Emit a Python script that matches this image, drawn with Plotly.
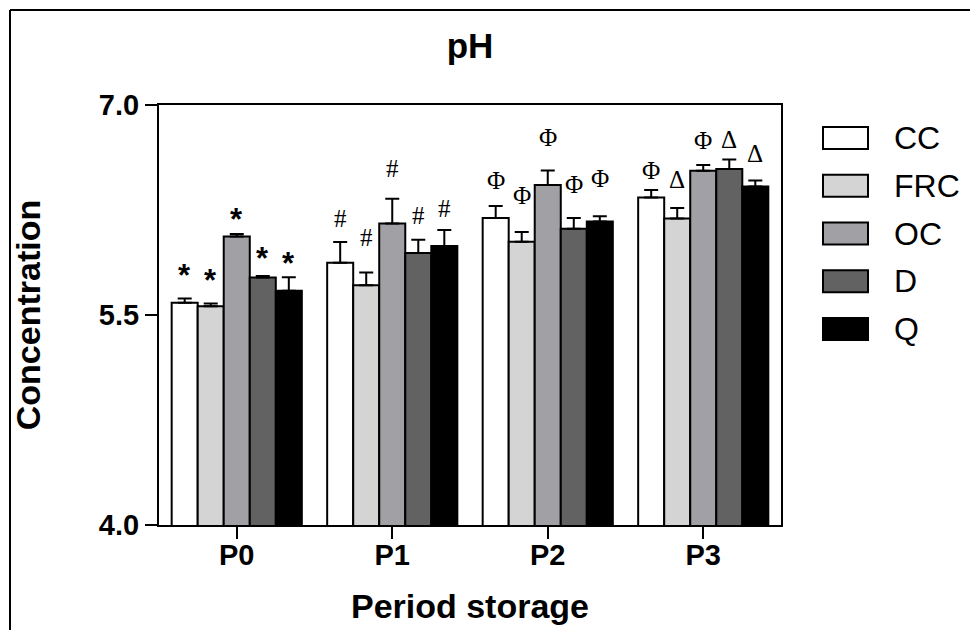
import plotly.graph_objects as go

# ---------------- data ----------------
periods = ["P0", "P1", "P2", "P3"]
series_names = ["CC", "FRC", "OC", "D", "Q"]
series_colors = ["#FFFFFF", "#D4D4D4", "#A1A1A5", "#626262", "#000000"]

cc_mean = [5.588, 5.874, 6.192, 6.340]
frc_mean = [5.562, 5.713, 6.023, 6.189]
oc_mean = [6.061, 6.154, 6.428, 6.531]
d_mean = [5.767, 5.942, 6.116, 6.543]
q_mean = [5.674, 5.992, 6.168, 6.418]

cc_err = [0.029, 0.148, 0.086, 0.053]
frc_err = [0.021, 0.090, 0.069, 0.076]
oc_err = [0.017, 0.177, 0.105, 0.041]
d_err = [0.012, 0.095, 0.076, 0.067]
q_err = [0.096, 0.115, 0.038, 0.043]

cc_sig = ["*", "#", "Φ", "Φ"]
frc_sig = ["*", "#", "Φ", "Δ"]
oc_sig = ["*", "#", "Φ", "Φ"]
d_sig = ["*", "#", "Φ", "Δ"]
q_sig = ["*", "#", "Φ", "Δ"]

# heights (in pH units) at which the significance marks are written
cc_sig_y = [5.827, 6.192, 6.464, 6.535]
frc_sig_y = [5.791, 6.056, 6.356, 6.471]
oc_sig_y = [6.228, 6.550, 6.771, 6.743]
d_sig_y = [5.949, 6.213, 6.435, 6.757]
q_sig_y = [5.913, 6.263, 6.478, 6.657]

y_ticks = [4.0, 5.5, 7.0]

means = [cc_mean, frc_mean, oc_mean, d_mean, q_mean]
errs = [cc_err, frc_err, oc_err, d_err, q_err]
sigs = [cc_sig, frc_sig, oc_sig, d_sig, q_sig]
sig_ys = [cc_sig_y, frc_sig_y, oc_sig_y, d_sig_y, q_sig_y]

# ---------------- layout constants ----------------
W, H = 970, 630
ML, MR, MT, MB = 159, 189, 105, 105
PW, PH = W - ML - MR, H - MT - MB
BARGAP = 0.163

SANS = "Arial, Liberation Sans, Helvetica, sans-serif"
SERIF = "Times New Roman, Liberation Serif, serif"


def px_x(px):
    return (px - ML) / PW


def px_y(py):
    return (H - MB - py) / PH


fig = go.Figure()
for name, col, m, e in zip(series_names, series_colors, means, errs):
    fig.add_trace(go.Bar(
        name=name, x=periods, y=m,
        marker=dict(color=col, line=dict(color="black", width=2)),
        error_y=dict(type="data", array=e, arrayminus=[0] * len(e), symmetric=False,
                     color="black", thickness=2, width=7),
        showlegend=False,
    ))

# significance marks
n = len(series_names)
bw = (1 - BARGAP) / n
annotations = []
for i in range(n):
    for j in range(len(periods)):
        s = sigs[i][j]
        is_star = s == "*"
        annotations.append(dict(
            x=j + (i - (n - 1) / 2) * bw, y=sig_ys[i][j], xref="x", yref="y",
            text=s, showarrow=False, xanchor="center", yanchor="middle",
            yshift=-6 if is_star else 0,
            font=dict(family=SANS if is_star else SERIF,
                      size=31 if is_star else 25, color="black",
                      weight=700 if is_star else 400),
        ))

# custom legend (large swatches like the original)
shapes = []
for i, (name, col) in enumerate(zip(series_names, series_colors)):
    cy = 138 + 47.75 * i
    shapes.append(dict(type="rect", xref="paper", yref="paper",
                       x0=px_x(823), x1=px_x(868), y0=px_y(cy + 11), y1=px_y(cy - 11),
                       fillcolor=col, line=dict(color="black", width=2)))
    annotations.append(dict(x=px_x(892), y=px_y(cy), xref="paper", yref="paper",
                            text=name, showarrow=False, xanchor="left", yanchor="middle",
                            font=dict(family=SANS, size=32, color="black")))

# outer frame (top and left edges)
shapes.append(dict(type="line", xref="paper", yref="paper",
                   x0=px_x(10), x1=px_x(972), y0=px_y(10), y1=px_y(10),
                   line=dict(color="black", width=2)))
shapes.append(dict(type="line", xref="paper", yref="paper",
                   x0=px_x(10), x1=px_x(10), y0=px_y(10), y1=px_y(632),
                   line=dict(color="black", width=2)))

fig.update_layout(
    width=W, height=H,
    margin=dict(l=ML, r=MR, t=MT, b=MB, autoexpand=False),
    paper_bgcolor="white", plot_bgcolor="white",
    barmode="group", bargap=BARGAP, bargroupgap=0,
    title=dict(text="pH", x=470 / W, xanchor="center", y=1 - 46 / H, yanchor="middle",
               font=dict(family=SANS, size=35, color="black", weight=700)),
    xaxis=dict(
        type="category", range=[-0.5, len(periods) - 0.5],
        showline=True, linecolor="black", linewidth=2, mirror=True,
        ticks="outside", ticklen=12, tickwidth=2, tickcolor="black",
        ticklabelstandoff=-9,
        tickfont=dict(family=SANS, size=29, color="black", weight=700),
        showgrid=False, zeroline=False,
        title=dict(text="Period storage", standoff=24,
                   font=dict(family=SANS, size=34, color="black", weight=700)),
    ),
    yaxis=dict(
        range=[4, 7], tickvals=y_ticks, tickformat=".1f",
        showline=True, linecolor="black", linewidth=2, mirror=True,
        ticks="outside", ticklen=12, tickwidth=2, tickcolor="black",
        tickfont=dict(family=SANS, size=29, color="black", weight=700),
        showgrid=False, zeroline=False,
        title=dict(text="Concentration", standoff=48,
                   font=dict(family=SANS, size=34, color="black", weight=700)),
    ),
    annotations=annotations,
    shapes=shapes,
)

fig.write_html("out.html")
